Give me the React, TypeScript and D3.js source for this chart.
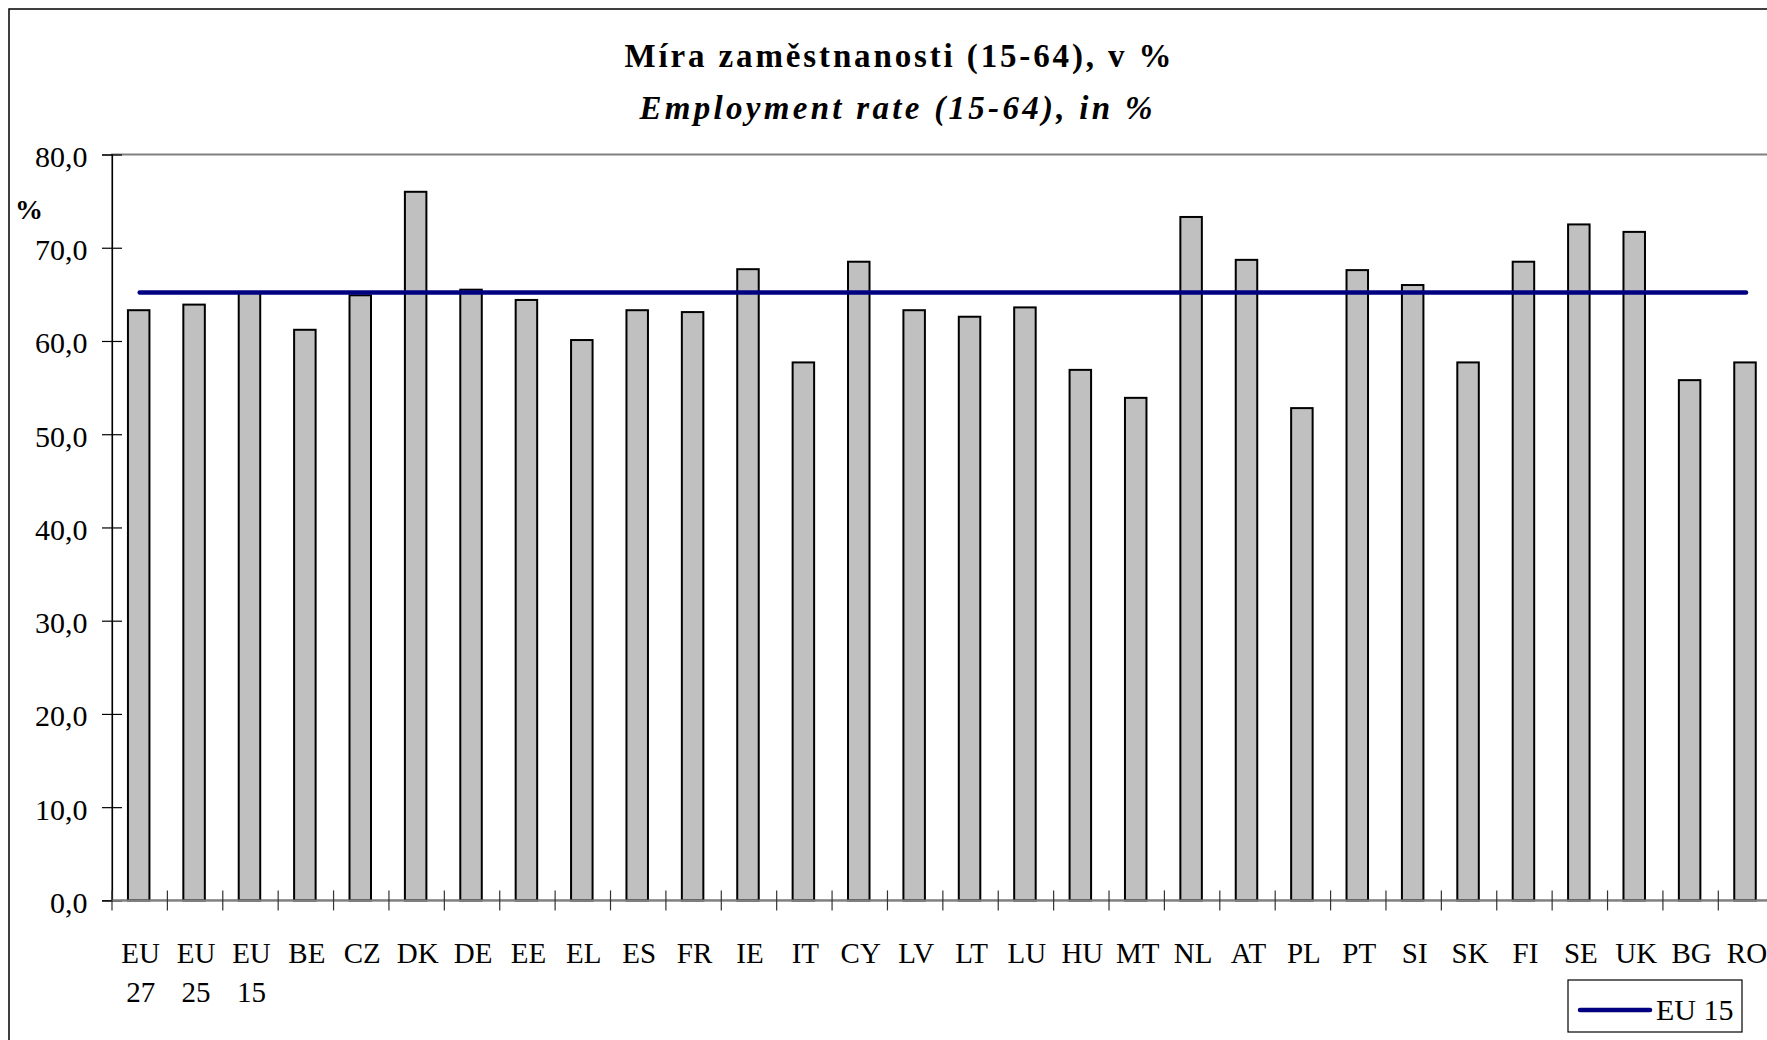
import React, { useRef, useEffect } from 'react';
import * as d3 from 'd3';

// categories as printed under the bars (EU aggregates wrap onto two lines)
const categories = [
  'EU27', 'EU25', 'EU15', 'BE', 'CZ', 'DK', 'DE', 'EE', 'EL', 'ES',
  'FR', 'IE', 'IT', 'CY', 'LV', 'LT', 'LU', 'HU', 'MT', 'NL',
  'AT', 'PL', 'PT', 'SI', 'SK', 'FI', 'SE', 'UK', 'BG', 'RO',
];

// employment rate 15-64, %
const rates = [
  63.3, 63.9, 65.2, 61.2, 64.9, 76.0, 65.5, 64.4, 60.1, 63.3,
  63.1, 67.7, 57.7, 68.5, 63.3, 62.6, 63.6, 56.9, 53.9, 73.3,
  68.7, 52.8, 67.6, 66.0, 57.7, 68.5, 72.5, 71.7, 55.8, 57.7,
];

const eu15Level = 65.2;
const yTicks = [0, 10, 20, 30, 40, 50, 60, 70, 80];

const titleLines = ['Míra zaměstnanosti (15-64), v %', 'Employment rate (15-64), in %'];
const legendLabel = 'EU 15';

const W = 1767;
const H = 1040;
const FONT = '"Liberation Serif", "Times New Roman", serif';

const splitLabel = (c: string) => {
  const m = c.match(/^(EU)(\d+)$/);
  return m ? [m[1], m[2]] : [c];
};

const App = () => {
  const ref = useRef<SVGSVGElement>(null);

  useEffect(() => {
    const svg = d3.select(ref.current);
    svg.selectAll('*').remove();

    const left = 112;
    const band = 55.39;
    const x = d3.scaleBand<string>()
      .domain(categories)
      .range([left, left + band * categories.length])
      .padding(0);
    const y = d3.scaleLinear().domain([0, 80]).range([900.4, 154.5]);

    // outer chart border (runs past the right and bottom edges)
    svg.append('rect')
      .attr('x', 9).attr('y', 9)
      .attr('width', W + 40).attr('height', H + 40)
      .attr('fill', 'white').attr('stroke', 'black').attr('stroke-width', 1.5);

    // title
    svg.append('text')
      .attr('x', 898).attr('y', 67)
      .attr('text-anchor', 'middle')
      .attr('font-family', FONT).attr('font-size', 33).attr('font-weight', 'bold')
      .attr('textLength', 547).attr('lengthAdjust', 'spacing')
      .text(titleLines[0]);
    svg.append('text')
      .attr('x', 896).attr('y', 119)
      .attr('text-anchor', 'middle')
      .attr('font-family', FONT).attr('font-size', 33).attr('font-weight', 'bold')
      .attr('font-style', 'italic')
      .attr('textLength', 513).attr('lengthAdjust', 'spacing')
      .text(titleLines[1]);

    // plot area frame
    const [x0, x1] = x.range();
    svg.append('rect')
      .attr('x', x0).attr('y', y(80))
      .attr('width', x1 - x0).attr('height', y(0) - y(80))
      .attr('fill', 'none').attr('stroke', '#808080').attr('stroke-width', 2);

    // y axis
    const yAxis = d3.axisLeft(y)
      .tickValues(yTicks)
      .tickSize(10)
      .tickPadding(14.5)
      .tickFormat(d => d3.format('.1f')(d as number).replace('.', ','));
    const gy = svg.append('g').attr('transform', `translate(${left},0)`).call(yAxis);
    gy.select('.domain').attr('stroke', 'black').attr('stroke-width', 1.2);
    gy.selectAll('.tick line').attr('x1', -10).attr('x2', 10).attr('stroke', 'black').attr('stroke-width', 1.2);
    gy.selectAll('.tick text')
      .attr('font-family', FONT).attr('font-size', 30).attr('fill', 'black')
      .attr('dy', '0.4em');

    svg.append('text')
      .attr('x', 15).attr('y', 219)
      .attr('font-family', FONT).attr('font-size', 28).attr('font-weight', 'bold')
      .text('%');

    // bars
    const barW = 21.5;
    svg.selectAll('.bar')
      .data(categories)
      .enter()
      .append('rect')
      .attr('class', 'bar')
      .attr('x', d => (x(d) as number) + x.bandwidth() / 2 - barW / 2 - 1)
      .attr('y', (d, i) => y(rates[i]))
      .attr('width', barW)
      .attr('height', (d, i) => y(0) - y(rates[i]))
      .attr('fill', '#c0c0c0')
      .attr('stroke', 'black')
      .attr('stroke-width', 2);

    // x axis line and boundary ticks
    svg.append('line')
      .attr('x1', x0).attr('x2', x1)
      .attr('y1', y(0)).attr('y2', y(0))
      .attr('stroke', '#808080').attr('stroke-width', 2);
    const bounds = categories.map(c => x(c) as number).concat([x1]);
    svg.selectAll('.xtick')
      .data(bounds)
      .enter()
      .append('line')
      .attr('class', 'xtick')
      .attr('x1', d => d).attr('x2', d => d)
      .attr('y1', y(0) - 10).attr('y2', y(0) + 10)
      .attr('stroke', '#333').attr('stroke-width', 1.2);

    // category labels
    const labels = svg.selectAll('.xlabel')
      .data(categories)
      .enter()
      .append('text')
      .attr('class', 'xlabel')
      .attr('text-anchor', 'middle')
      .attr('font-family', FONT).attr('font-size', 29);
    labels.selectAll('tspan')
      .data(d => splitLabel(d).map(t => ({ t, c: d })))
      .enter()
      .append('tspan')
      .attr('x', d => (x(d.c) as number) + x.bandwidth() / 2 + 1)
      .attr('y', (d, i) => 963 + i * 39)
      .text(d => d.t);

    // EU 15 reference line
    const line = d3.line<string>()
      .x(d => (x(d) as number) + x.bandwidth() / 2)
      .y(() => y(eu15Level));
    svg.append('path')
      .datum([categories[0], categories[categories.length - 1]])
      .attr('d', line)
      .attr('fill', 'none')
      .attr('stroke', '#000080')
      .attr('stroke-width', 4.5)
      .attr('stroke-linecap', 'round');

    // legend
    const lg = svg.append('g');
    lg.append('rect')
      .attr('x', 1568).attr('y', 980)
      .attr('width', 174).attr('height', 52)
      .attr('fill', 'white').attr('stroke', 'black').attr('stroke-width', 1.2);
    lg.append('line')
      .attr('x1', 1580).attr('x2', 1650)
      .attr('y1', 1010).attr('y2', 1010)
      .attr('stroke', '#000080').attr('stroke-width', 4.5)
      .attr('stroke-linecap', 'round');
    lg.append('text')
      .attr('x', 1656).attr('y', 1020)
      .attr('font-family', FONT).attr('font-size', 30)
      .text(legendLabel);
  }, []);

  return (
    <svg
      ref={ref}
      width={W}
      height={H}
      style={{ position: 'absolute', left: 0, top: 0, background: 'white' }}
    />
  );
};

export default App;
